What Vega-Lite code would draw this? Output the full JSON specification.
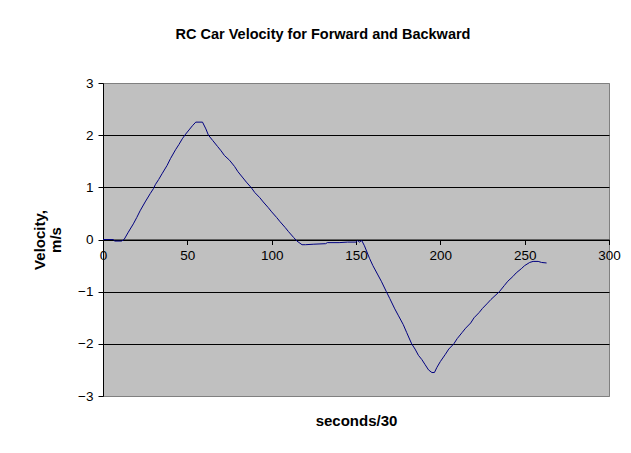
{
  "$schema": "https://vega.github.io/schema/vega-lite/v6.json",
  "width": 506,
  "height": 313,
  "autosize": {"type": "none"},
  "padding": {"left": 103, "top": 83, "right": 22, "bottom": 57},
  "background": "white",
  "title": {
    "text": "RC Car Velocity for Forward and Backward",
    "font": "Liberation Sans",
    "fontSize": 14.5,
    "fontWeight": "bold",
    "color": "black",
    "anchor": "middle",
    "dx": -33,
    "offset": 23,
    "baseline": "alphabetic"
  },
  "config": {
    "view": {"fill": "#C0C0C0", "stroke": "#808080", "strokeWidth": 1},
    "font": "Liberation Sans"
  },
  "data": {
    "values": [
      {"t": 0, "v": 0}, {"t": 6, "v": 0}, {"t": 7, "v": -0.03}, {"t": 11, "v": -0.03},
      {"t": 12.5, "v": 0}, {"t": 15, "v": 0.14}, {"t": 18, "v": 0.3}, {"t": 20, "v": 0.42},
      {"t": 22, "v": 0.55}, {"t": 25, "v": 0.72}, {"t": 28, "v": 0.88}, {"t": 30, "v": 0.98},
      {"t": 31, "v": 1.05}, {"t": 33, "v": 1.15}, {"t": 35, "v": 1.26}, {"t": 38, "v": 1.42},
      {"t": 40, "v": 1.55}, {"t": 43, "v": 1.72}, {"t": 45, "v": 1.82}, {"t": 47, "v": 1.93},
      {"t": 49, "v": 2.02}, {"t": 51, "v": 2.1}, {"t": 53, "v": 2.18}, {"t": 55, "v": 2.25},
      {"t": 59, "v": 2.25}, {"t": 61, "v": 2.12}, {"t": 62.5, "v": 2.0}, {"t": 65, "v": 1.9},
      {"t": 68, "v": 1.78}, {"t": 70, "v": 1.7}, {"t": 72, "v": 1.61}, {"t": 75, "v": 1.52},
      {"t": 78, "v": 1.4}, {"t": 80, "v": 1.3}, {"t": 83, "v": 1.18}, {"t": 85, "v": 1.1},
      {"t": 88, "v": 0.99}, {"t": 90, "v": 0.9}, {"t": 93, "v": 0.8}, {"t": 95, "v": 0.72},
      {"t": 98, "v": 0.61}, {"t": 100, "v": 0.53}, {"t": 103, "v": 0.42}, {"t": 105, "v": 0.34},
      {"t": 108, "v": 0.23}, {"t": 110, "v": 0.15}, {"t": 113, "v": 0.04}, {"t": 115, "v": -0.03},
      {"t": 118, "v": -0.1}, {"t": 120, "v": -0.1}, {"t": 125, "v": -0.09}, {"t": 132, "v": -0.08},
      {"t": 133, "v": -0.06}, {"t": 140, "v": -0.06}, {"t": 145, "v": -0.05}, {"t": 150, "v": -0.05},
      {"t": 151, "v": -0.02}, {"t": 152, "v": -0.05}, {"t": 153.4, "v": -0.02}, {"t": 155, "v": -0.12},
      {"t": 158, "v": -0.36}, {"t": 160, "v": -0.5}, {"t": 163, "v": -0.68}, {"t": 165, "v": -0.8},
      {"t": 168, "v": -1.0}, {"t": 170, "v": -1.13}, {"t": 173, "v": -1.33}, {"t": 175, "v": -1.45},
      {"t": 178, "v": -1.63}, {"t": 180, "v": -1.78}, {"t": 183, "v": -2.0}, {"t": 185, "v": -2.1},
      {"t": 187, "v": -2.22}, {"t": 189, "v": -2.3}, {"t": 191, "v": -2.4}, {"t": 193, "v": -2.5},
      {"t": 195, "v": -2.55}, {"t": 196.5, "v": -2.55}, {"t": 198, "v": -2.45}, {"t": 200, "v": -2.34},
      {"t": 203, "v": -2.2}, {"t": 205, "v": -2.1}, {"t": 208, "v": -2.0}, {"t": 210, "v": -1.9},
      {"t": 213, "v": -1.78}, {"t": 215, "v": -1.7}, {"t": 218, "v": -1.6}, {"t": 220, "v": -1.5},
      {"t": 223, "v": -1.4}, {"t": 225, "v": -1.32}, {"t": 228, "v": -1.22}, {"t": 230, "v": -1.15},
      {"t": 233, "v": -1.06}, {"t": 235, "v": -1.0}, {"t": 238, "v": -0.88}, {"t": 240, "v": -0.8},
      {"t": 243, "v": -0.71}, {"t": 245, "v": -0.64}, {"t": 248, "v": -0.56}, {"t": 250, "v": -0.5},
      {"t": 253, "v": -0.44}, {"t": 255, "v": -0.42}, {"t": 258, "v": -0.42}, {"t": 260, "v": -0.44},
      {"t": 263, "v": -0.45}
    ]
  },
  "mark": {"type": "line", "color": "#000080", "strokeWidth": 1, "clip": true},
  "encoding": {
    "x": {
      "field": "t",
      "type": "quantitative",
      "scale": {"domain": [0, 300], "nice": false, "zero": false},
      "axis": {
        "values": [0, 50, 100, 150, 200, 250, 300],
        "offset": -156.5,
        "grid": false,
        "domainColor": "black",
        "tickColor": "black",
        "tickSize": 5,
        "labelPadding": 4,
        "labelFontSize": 13.5,
        "labelColor": "black",
        "labelFont": "Liberation Sans",
        "labelFlush": false,
        "labelOverlap": false,
        "title": "seconds/30",
        "titleFont": "Liberation Sans",
        "titleFontSize": 15,
        "titleFontWeight": "bold",
        "titleColor": "black",
        "titleY": 181,
        "titleBaseline": "middle"
      }
    },
    "y": {
      "field": "v",
      "type": "quantitative",
      "scale": {"domain": [-3, 3], "nice": false, "zero": false},
      "axis": {
        "values": [-3, -2, -1, 0, 1, 2, 3],
        "grid": true,
        "gridColor": {"condition": {"test": "abs(datum.value) == 3", "value": "#808080"}, "value": "#000000"},
        "gridWidth": 1,
        "gridOpacity": 1,
        "domainColor": "black",
        "tickColor": "black",
        "tickSize": 5,
        "labelPadding": 5,
        "labelFontSize": 13.5,
        "labelColor": "black",
        "labelFont": "Liberation Sans",
        "labelFlush": false,
        "labelOverlap": false,
        "title": ["Velocity,", "m/s"],
        "titleFont": "Liberation Sans",
        "titleFontSize": 15,
        "titleFontWeight": "bold",
        "titleColor": "black",
        "titleLineHeight": 16,
        "titleX": -56,
        "titleY": 156.5,
        "titleAlign": "center",
        "titleBaseline": "bottom",
        "titleAngle": -90
      }
    }
  }
}
